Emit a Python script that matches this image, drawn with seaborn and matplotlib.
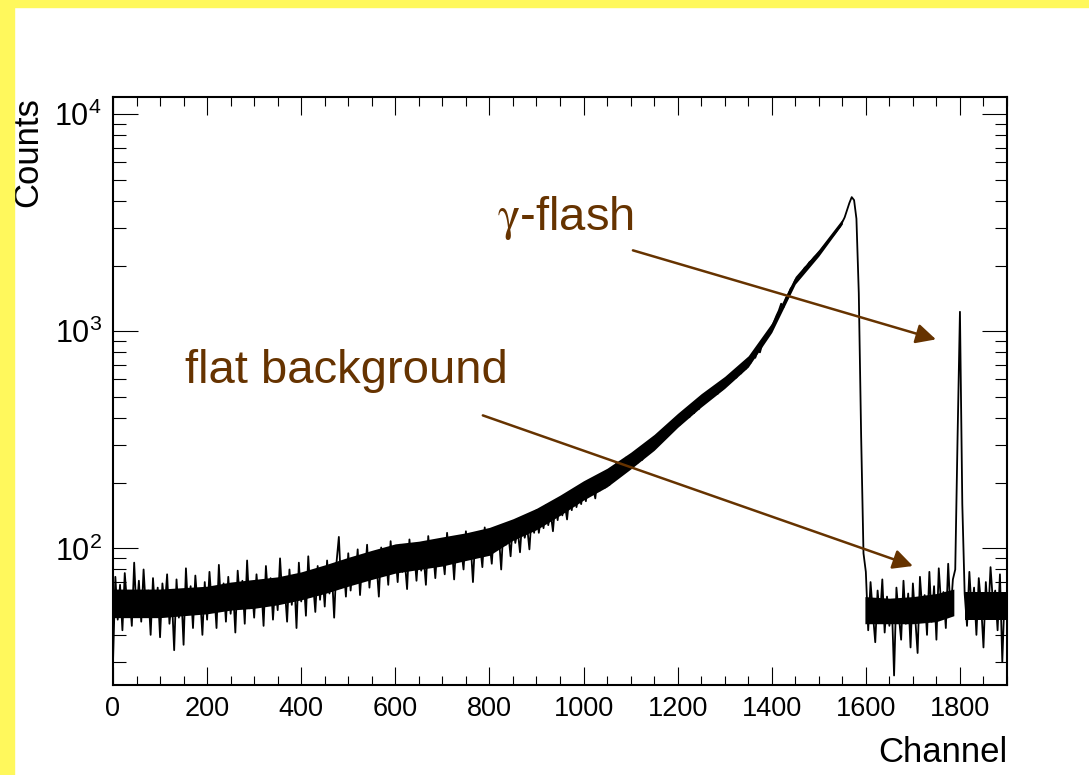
import numpy as np
import pandas as pd
import matplotlib
matplotlib.use('Agg')
import matplotlib.pyplot as plt
import matplotlib.ticker as ticker
from matplotlib.patches import Rectangle
import seaborn as sns

# spectrum, one value per 5 channels (bin centres 0, 5, 10, ...)
counts_0_500 = [
    30, 74, 47, 68, 42, 77, 55, 62, 44, 86,
    50, 71, 46, 80, 52, 64, 40, 73, 49, 66,
    39, 69, 53, 76, 45, 60, 34, 72, 48, 63,
    36, 81, 51, 67, 43, 75, 54, 61, 40, 70,
    47, 78, 55, 64, 43, 84, 52, 69, 46, 74,
    50, 66, 41, 79, 57, 71, 45, 88, 53, 67,
    48, 76, 56, 68, 44, 83, 58, 73, 47, 70,
    52, 90, 59, 66, 46, 80, 55, 75, 43, 86,
    57, 74, 49, 92, 60, 70, 51, 83, 58, 77,
    54, 88, 62, 79, 48, 86, 113, 66, 84, 60,
]
counts_500_1000 = [
    95, 64, 87, 70, 99, 61, 90, 72, 104, 66,
    92, 74, 85, 60, 101, 76, 94, 68, 108, 79,
    95, 70, 104, 78, 88, 65, 110, 82, 97, 71,
    102, 79, 92, 68, 114, 84, 99, 73, 106, 86,
    96, 76, 118, 88, 103, 72, 110, 90, 99, 80,
    120, 92, 106, 70, 114, 95, 104, 82, 125, 96,
    108, 85, 124, 100, 115, 80, 128, 104, 118, 92,
    132, 106, 122, 96, 138, 112, 127, 99, 145, 118,
    150, 118, 140, 124, 158, 128, 147, 120, 162, 135,
    170, 142, 161, 136, 175, 150, 188, 155, 178, 160,
]
counts_1000_1500 = [
    196, 165, 205, 178, 192, 170, 215, 185, 204, 190,
    225, 196, 233, 205, 248, 214, 238, 222, 262, 230,
    270, 238, 262, 248, 288, 256, 300, 270, 312, 282,
    325, 296, 338, 310, 352, 326, 368, 340, 382, 358,
    400, 372, 412, 390, 428, 402, 445, 420, 462, 438,
    490, 462, 505, 482, 522, 500, 545, 515, 566, 540,
    595, 565, 615, 590, 640, 612, 668, 640, 700, 672,
    730, 715, 768, 755, 815, 800, 880, 905, 955, 1000,
    1050, 1110, 1180, 1245, 1340, 1290, 1420, 1470, 1570, 1620,
    1720, 1750, 1830, 1880, 1960, 2000, 2080, 2120, 2190, 2240,
]
counts_1500_1900 = [
    2300, 2370, 2450, 2520, 2600, 2680, 2760, 2840, 2940, 3030,
    3180, 3350, 3620, 3900, 4150, 4020, 3300, 1500, 330, 95,
    78, 42, 70, 50, 37, 64, 47, 72, 41, 60,
    44, 58, 26, 66, 49, 38, 71, 45, 62, 35,
    69, 48, 33, 74, 52, 61, 40, 78, 46, 67,
    38, 81, 55, 63, 43, 85, 50, 72, 80, 330,
    1230, 160, 62, 44, 78, 51, 66, 40, 73, 55,
    35, 70, 48, 82, 57, 64, 42, 76, 30, 62,
]
bin_width = 5

# dense core of the noise band (read every 50 channels)
core_ch = [0, 50, 100, 150, 200, 250, 300, 350, 400, 450, 500, 550, 600, 650, 700, 750,
           800, 850, 900, 950, 1000, 1050, 1100, 1150, 1200, 1250, 1300, 1350, 1400,
           1450, 1500, 1550]
core_lo = [48, 48, 48, 49, 50, 52, 53, 55, 58, 62, 67, 72, 77, 80, 83, 88,
           93, 109, 122, 142, 167, 192, 232, 283, 361, 448, 546, 684, 988,
           1650, 2220, 3120]
core_hi = [65, 65, 65, 66, 67, 70, 72, 74, 78, 84, 91, 98, 105, 108, 113, 118,
           125, 137, 153, 176, 205, 234, 277, 335, 419, 516, 620, 771, 1092,
           1790, 2380, 3290]
flat_ch = [1598, 1650, 1700, 1750, 1787]
flat_lo = [45, 45, 45, 46, 49]
flat_hi = [60, 59, 60, 62, 65]
tail_ch = [1810, 1850, 1900]
tail_lo = [47, 47, 47]
tail_hi = [63, 63, 63]

counts = counts_0_500 + counts_500_1000 + counts_1000_1500 + counts_1500_1900
df = pd.DataFrame({'Channel': np.arange(len(counts)) * bin_width, 'Counts': counts})

brown = '#663300'
yellow = '#FFF85C'

sns.set_style('ticks')
plt.rcParams['font.family'] = ['Liberation Sans', 'DejaVu Sans']
plt.rcParams['mathtext.fontset'] = 'stix'
plt.rcParams['text.color'] = 'black'
plt.rcParams['axes.labelcolor'] = 'black'
plt.rcParams['xtick.color'] = 'black'
plt.rcParams['ytick.color'] = 'black'

fig = plt.figure(figsize=(10.89, 7.75), dpi=100)
ax = fig.add_axes([113 / 1089, 90 / 775, 894 / 1089, 588 / 775])

# yellow slide frame
fig.patches.append(Rectangle((0, 1 - 7 / 775), 1, 7 / 775, transform=fig.transFigure,
                             color=yellow, zorder=0))
fig.patches.append(Rectangle((0, 0), 14 / 1089, 1, transform=fig.transFigure,
                             color=yellow, zorder=0))

ax.set_yscale('log')
for xs, lo, hi in [(core_ch, core_lo, core_hi), (flat_ch, flat_lo, flat_hi),
                   (tail_ch, tail_lo, tail_hi)]:
    ax.fill_between(xs, lo, hi, color='black', lw=0)
sns.lineplot(data=df, x='Channel', y='Counts', ax=ax, color='black', lw=1.3,
             estimator=None, sort=False)

ax.set_xlim(0, 1900)
ax.set_ylim(23.5, 12000)

ax.xaxis.set_major_locator(ticker.MultipleLocator(200))
ax.xaxis.set_minor_locator(ticker.MultipleLocator(50))
ax.yaxis.set_major_locator(ticker.LogLocator(base=10, numticks=10))
ax.yaxis.set_minor_locator(ticker.LogLocator(base=10, subs=np.arange(2, 10), numticks=20))
ax.yaxis.set_major_formatter(ticker.FuncFormatter(
    lambda v, pos: r'$\mathregular{10^{%d}}$' % round(np.log10(v))))
ax.yaxis.set_minor_formatter(ticker.NullFormatter())

ax.tick_params(axis='both', which='both', direction='in', top=True, right=True,
               color='black', labelcolor='black')
ax.tick_params(axis='x', which='major', length=13, width=0.8, labelsize=19.5, pad=8)
ax.tick_params(axis='x', which='minor', length=6.5, width=0.8)
ax.tick_params(axis='y', which='major', length=18, width=0.8, labelsize=22, pad=8)
ax.tick_params(axis='y', which='minor', length=9, width=0.8)
for s in ax.spines.values():
    s.set_linewidth(1.5)
    s.set_color('black')

ax.set_xlabel('Channel', fontsize=25, loc='right')
ax.set_ylabel('Counts', fontsize=25, loc='top')
ax.xaxis.set_label_coords(1.0, -0.086)
ax.yaxis.set_label_coords(-0.077, 1.0)

# annotations
arrow = dict(arrowstyle='-|>,head_length=0.6,head_width=0.3', color=brown, lw=1.8,
             shrinkA=0, shrinkB=0, mutation_scale=20)
ax.annotate('', xy=(1749, 918), xytext=(1105, 2360), arrowprops=arrow)
ax.annotate('', xy=(1700, 83), xytext=(786, 410), arrowprops=arrow)
ax.text(153, 576, 'flat background', fontsize=34, color=brown, ha='left', va='baseline')
ax.text(816, 2918, r'$\mathrm{\gamma}$-flash', fontsize=34, color=brown, ha='left',
        va='baseline')

fig.savefig('out.png', dpi=100, facecolor='white')
